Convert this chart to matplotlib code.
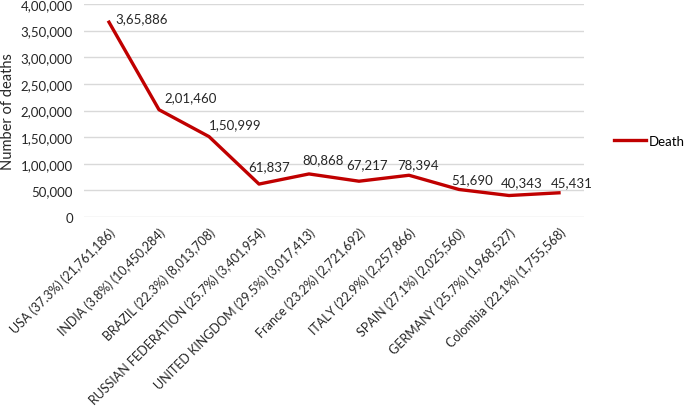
import numpy as np
from matplotlib import pyplot as plt
from matplotlib.ticker import FuncFormatter

plt.rcParams['font.family'] = ['Lato', 'DejaVu Sans']

# 数据
countries = ['USA (37.3%) (21,761,186)', 'INDIA (3.8%) (10,450,284)',
             'BRAZIL (22.3%) (8,013,708)', 'RUSSIAN FEDERATION (25.7%) (3,401,954)',
             'UNITED KINGDOM (29.5%) (3,017,413)', 'France (23.2%) (2,721,692)',
             'ITALY (22.9%) (2,257,866)', 'SPAIN (27.1%) (2,025,560)',
             'GERMANY (25.7%) (1,968,527)', 'Colombia (22.1%) (1,755,568)']
deaths = [365886, 201460, 150999, 61837, 80868, 67217, 78394, 51690, 40343, 45431]

# 标签偏移（像素）
label_dx = [6, 5, 0, -11, -7, -13, -12, -8, -8, -8]
label_dy = [4, 13, 12, 18, 15, 17, 11, 10, 13, 11]


def indian_fmt(v):
    """印度计数法：3,65,886"""
    s = str(int(round(v)))
    if len(s) <= 3:
        return s
    head, tail = s[:-3], s[-3:]
    parts = []
    while len(head) > 2:
        parts.insert(0, head[-2:])
        head = head[:-2]
    if head:
        parts.insert(0, head)
    return ','.join(parts + [tail])


fig = plt.figure(figsize=(6.85, 4.10), dpi=100)
ax = fig.add_axes([84 / 685, 1 - 218 / 410, 500 / 685, 213 / 410])

x = np.arange(len(countries))
line, = ax.plot(x, deaths, color='#C00000', lw=2.4, label='Death', solid_joinstyle='round')

for i, d in enumerate(deaths):
    ax.annotate(indian_fmt(d), (x[i], d), xytext=(label_dx[i], label_dy[i]),
                textcoords='offset pixels', ha='left', va='center',
                fontsize=9.5, color='#262626')

ax.set_xlim(-0.5, len(countries) - 0.5)
ax.set_ylim(0, 400000)
ax.set_yticks(np.arange(0, 400001, 50000))
ax.yaxis.set_major_formatter(FuncFormatter(lambda v, p: indian_fmt(v)))
ax.grid(axis='y', color='#D9D9D9', lw=1)
ax.set_axisbelow(True)
for s in ax.spines.values():
    s.set_visible(False)
ax.tick_params(length=0, labelsize=9.5, labelcolor='#262626')
ax.tick_params(axis='y', pad=8)

ax.set_xticks(x)
ax.set_xticklabels(countries, rotation=45, ha='right', va='top',
                   rotation_mode='anchor', fontsize=9)
ax.tick_params(axis='x', pad=6)

ax.set_ylabel('Number of deaths', fontsize=10.5, color='#262626', va='center')
ax.yaxis.set_label_coords(-0.152, 0.5)

fig.legend(handles=[line], loc='center left', bbox_to_anchor=(614 / 685, 1 - 142 / 410),
           frameon=False, fontsize=9.5, handlelength=2.4, handletextpad=0.25,
           borderpad=0, borderaxespad=0)

fig.savefig('out.png', dpi=100)
